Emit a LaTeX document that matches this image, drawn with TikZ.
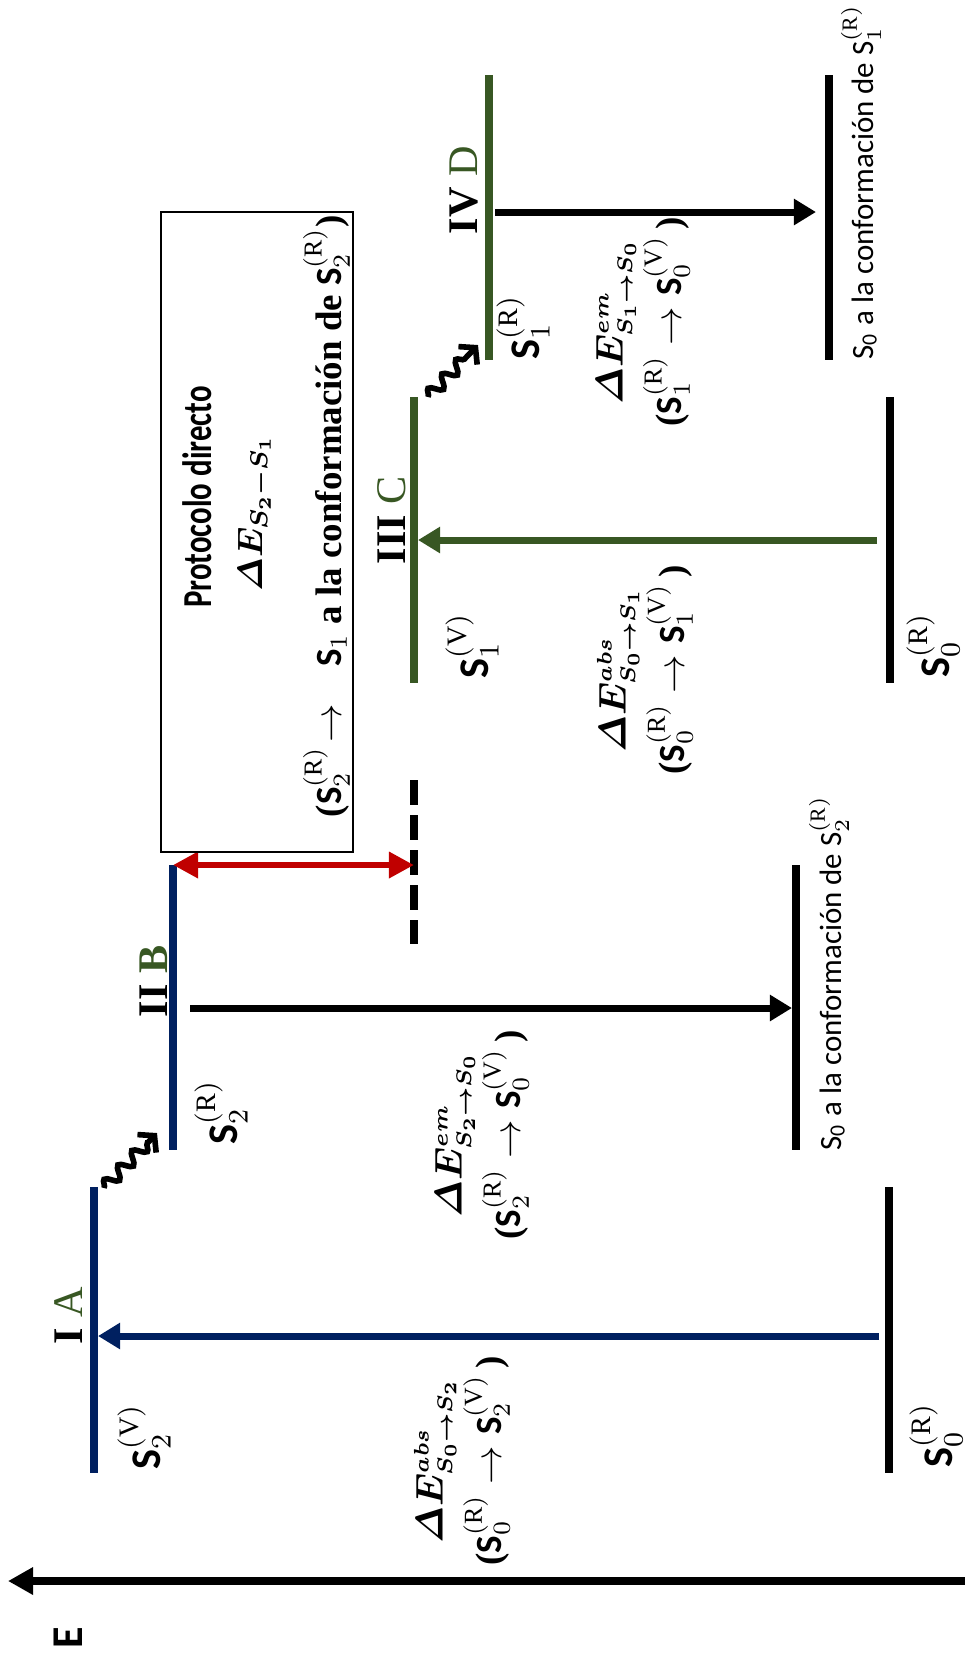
\documentclass[tikz,border=0pt]{standalone}
\usepackage{amsmath, bm}
\usepackage{fontspec}
\setmainfont{Liberation Serif}
\setsansfont{Carlito}
\usetikzlibrary{arrows.meta, decorations.pathmorphing}
\definecolor{lvlblue}{RGB}{0, 32, 96}
\definecolor{lvlgreen}{RGB}{56, 87, 35}
\definecolor{gapred}{RGB}{192, 0, 0}

% bold state symbol with sub- and superscript
\newcommand{\lvlS}[2]{\text{\sffamily\bfseries S}_{#1}^{(\mathrm{#2})}}
% small scripts for the transition energies
\newcommand{\escr}[1]{\text{\fontsize{6.2}{7}\selectfont$\boldsymbol{#1}$}}
\newcommand{\dE}[3]{\boldsymbol{\varDelta E}^{\escr{#1}}_{\escr{S_{#2}{\to}S_{#3}}}}

\begin{document}
\begin{tikzpicture}[x=0.01cm, y=-0.01cm,
  lvl/.style={line width=2.3pt},
  trans/.style={line width=2pt, -{Triangle[length=0.22cm, width=0.25cm]}},
  relax/.style={line width=1.6pt, decorate,
    decoration={snake, amplitude=0.06cm, segment length=0.2cm, post length=0.12cm},
    -{Straight Barb[length=0.11cm, width=0.26cm]}},
  vlab/.style={rotate=90, inner sep=0pt, font=\fontsize{12}{14}\selectfont},
  tag/.style={rotate=90, inner sep=0pt, font=\fontsize{12}{14}\selectfont},
  elab/.style={rotate=90, inner sep=0pt, align=center, font=\fontsize{10.5}{14}\selectfont},
  conf/.style={rotate=90, inner sep=0pt, font=\sffamily\fontsize{8.8}{10}\selectfont}
]
  \useasboundingbox (0,0) rectangle (965,1659);

  % energy axis
  \coordinate (e-tail) at (965,1581);
  \coordinate (e-head) at (8,1581);
  \draw[line width=2.3pt, -{Triangle[length=0.25cm, width=0.26cm]}] (e-tail) -- (e-head);
  \node[rotate=90, font=\sffamily\bfseries\fontsize{12.5}{14}\selectfont] (e-lab) at (68,1638) {E};

  % levels
  \draw[lvl, lvlblue] (94,1187) coordinate (s2v-top) -- (94,1473) coordinate (s2v-bot);
  \draw[lvl] (889,1187) coordinate (s0a-top) -- (889,1473) coordinate (s0a-bot);
  \draw[lvl, lvlblue] (173,865) coordinate (s2r-top) -- (173,1150) coordinate (s2r-bot);
  \draw[lvl] (796,865) coordinate (s0b-top) -- (796,1150) coordinate (s0b-bot);
  \draw[lvl, dash pattern=on 0.25cm off 0.1cm] (414,780) coordinate (s1x-top) -- (414,944) coordinate (s1x-bot);
  \draw[lvl, lvlgreen] (414,397) coordinate (s1v-top) -- (414,683) coordinate (s1v-bot);
  \draw[lvl] (890,397) coordinate (s0c-top) -- (890,683) coordinate (s0c-bot);
  \draw[lvl, lvlgreen] (489,75) coordinate (s1r-top) -- (489,360) coordinate (s1r-bot);
  \draw[lvl] (829,75) coordinate (s0d-top) -- (829,360) coordinate (s0d-bot);

  % vertical transitions
  \coordinate (abs1-from) at (879,1336);
  \coordinate (abs1-to) at (98,1336);
  \coordinate (em2-from) at (190,1008);
  \coordinate (em2-to) at (792,1008);
  \coordinate (abs3-from) at (877,540);
  \coordinate (abs3-to) at (418,540);
  \coordinate (em4-from) at (495,212);
  \coordinate (em4-to) at (816,212);
  \draw[trans, lvlblue] (abs1-from) -- (abs1-to);
  \draw[trans] (em2-from) -- (em2-to);
  \draw[trans, lvlgreen] (abs3-from) -- (abs3-to);
  \draw[trans] (em4-from) -- (em4-to);

  % relaxation
  \coordinate (rel1-from) at (104,1188);
  \coordinate (rel1-to) at (157,1133);
  \coordinate (rel2-from) at (428,397);
  \coordinate (rel2-to) at (478,345);
  \draw[relax] (rel1-from) -- (rel1-to);
  \draw[relax] (rel2-from) -- (rel2-to);

  % S2-S1 gap
  \coordinate (s1x-gap) at (414,865);
  \draw[line width=1.8pt, gapred, {Triangle[length=0.25cm, width=0.25cm]}-{Triangle[length=0.25cm, width=0.25cm]}] (s2r-top) -- (s1x-gap);

  % state labels
  \node[vlab, anchor=west] (s2v-lab) at (144,1470) {$\lvlS{2}{V}$};
  \node[vlab, anchor=west] (s2r-lab) at (221,1145) {$\lvlS{2}{R}$};
  \node[vlab, anchor=west] (s1v-lab) at (472,679) {$\lvlS{1}{V}$};
  \node[vlab, anchor=west] (s1r-lab) at (523,360) {$\lvlS{1}{R}$};
  \node[vlab, anchor=west] (s0a-lab) at (936,1468) {$\lvlS{0}{R}$};
  \node[vlab, anchor=west] (s0c-lab) at (933,678) {$\lvlS{0}{R}$};
  \node[conf, anchor=base west] (s0b-lab) at (841,1151) {S\textsubscript{0} a la conformación de S$_2^{(\mathrm{R})}$};
  \node[conf, anchor=base west] (s0d-lab) at (873,360) {S\textsubscript{0} a la conformación de S$_1^{(\mathrm{R})}$};

  % steps
  \node[tag, anchor=base west] (tag-i) at (82,1345) {\textbf{I} \textcolor{lvlgreen}{A}};
  \node[tag, anchor=base west] (tag-ii) at (167,1018) {\textbf{II} \textcolor{lvlgreen}{\textbf{B}}};
  \node[tag, anchor=base west] (tag-iii) at (405,565) {\textbf{III} \textcolor{lvlgreen}{C}};
  \node[tag, anchor=base west] (tag-iv) at (477,235) {\textbf{IV} \textcolor{lvlgreen}{D}};

  % transition energies
  \node[elab] (abs1-lab) at (462,1461)
    {$\dE{abs}{0}{2}$\\[1pt] \textbf{(}$\lvlS{0}{R}\to\lvlS{2}{V}$\,\textbf{)}};
  \node[elab] (em2-lab) at (482,1135)
    {$\dE{em}{2}{0}$\\[1pt] \textbf{(}$\lvlS{2}{R}\to\lvlS{0}{V}$\,\textbf{)}};
  \node[elab] (abs3-lab) at (645,670)
    {$\dE{abs}{0}{1}$\\[1pt] \textbf{(}$\lvlS{0}{R}\to\lvlS{1}{V}$\,\textbf{)}};
  \node[elab] (em4-lab) at (643,322)
    {$\dE{em}{1}{0}$\\[1pt] \textbf{(}$\lvlS{1}{R}\to\lvlS{0}{V}$\,\textbf{)}};

  % direct protocol box
  \node[draw, line width=0.6pt, minimum width=1.92cm, minimum height=6.4cm, inner sep=0pt] (proto-box) at (257,532) {};
  \node[rotate=90, anchor=base, xscale=0.75, font=\sffamily\bfseries\fontsize{11.7}{14}\selectfont] (proto-title) at (212,497) {Protocolo directo};
  \node[rotate=90, anchor=base, font=\fontsize{10}{12}\selectfont] (proto-gap) at (262,513) {$\boldsymbol{\varDelta E_{S_2-S_1}}$};
  \node[rotate=90, anchor=base, font=\bfseries\fontsize{10.5}{12}\selectfont] (proto-path) at (341,516)
    {($\lvlS{2}{R}\!\to$\quad $\text{\sffamily\bfseries S}_1$ a la conformación de $\lvlS{2}{R}$)};
\end{tikzpicture}
\end{document}
